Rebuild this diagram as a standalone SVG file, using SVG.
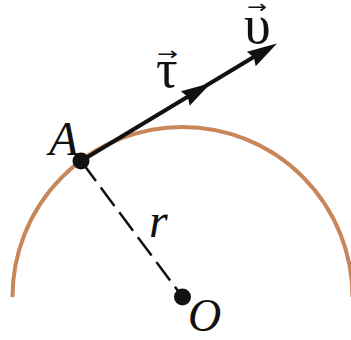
<svg xmlns="http://www.w3.org/2000/svg" xmlns:xlink="http://www.w3.org/1999/xlink" width="351" height="340" viewBox="0 0 351 340">
<style>
.lbl{font-family:"Liberation Serif","Times New Roman",serif;font-style:italic;fill:#111}
.grk{font-family:"Liberation Serif","DejaVu Serif",serif;fill:#111}
.acc{font-family:"DejaVu Sans",sans-serif;fill:#111}
.dot{fill:#111}
</style>
<defs>
<polygon id="ah" points="0,0 -30,-8.5 -27,0 -30,8.5" fill="#111"/>
</defs>
<rect width="351" height="340" fill="#fff"/>
<g id="arc">
<path d="M 12.5 297 A 170 170 0 0 1 352.5 297" fill="none" stroke="#C8875A" stroke-width="4"/>
</g>
<g id="connectors">
<line x1="81" y1="161" x2="182.5" y2="297" stroke="#111" stroke-width="2.5" stroke-dasharray="23 8" stroke-dashoffset="29"/>
<line x1="81" y1="161" x2="262" y2="52" stroke="#111" stroke-width="4"/>
<use xlink:href="#ah" transform="translate(211 83) rotate(-31.05)"/>
<use xlink:href="#ah" transform="translate(277 43.5) rotate(-31.05)"/>
</g>
<g id="nodeA">
<circle class="dot" cx="81" cy="161" r="8.5"/>
<text class="lbl" x="49" y="155" font-size="48">A</text>
</g>
<g id="nodeO">
<circle class="dot" cx="182.5" cy="297" r="8.5"/>
<text class="lbl" x="188" y="331" font-size="46">O</text>
</g>
<g id="labelR">
<text class="lbl" x="149" y="237" font-size="48">r</text>
</g>
<g id="labelTau">
<text class="acc" x="157" y="59.5" font-size="18" textLength="21" lengthAdjust="spacingAndGlyphs">→</text>
<text class="grk" x="156" y="87" font-size="54">τ</text>
</g>
<g id="labelV">
<text class="acc" x="247" y="12.5" font-size="18" textLength="20" lengthAdjust="spacingAndGlyphs">→</text>
<text class="grk" x="244" y="43" font-size="54">υ</text>
</g>
</svg>
